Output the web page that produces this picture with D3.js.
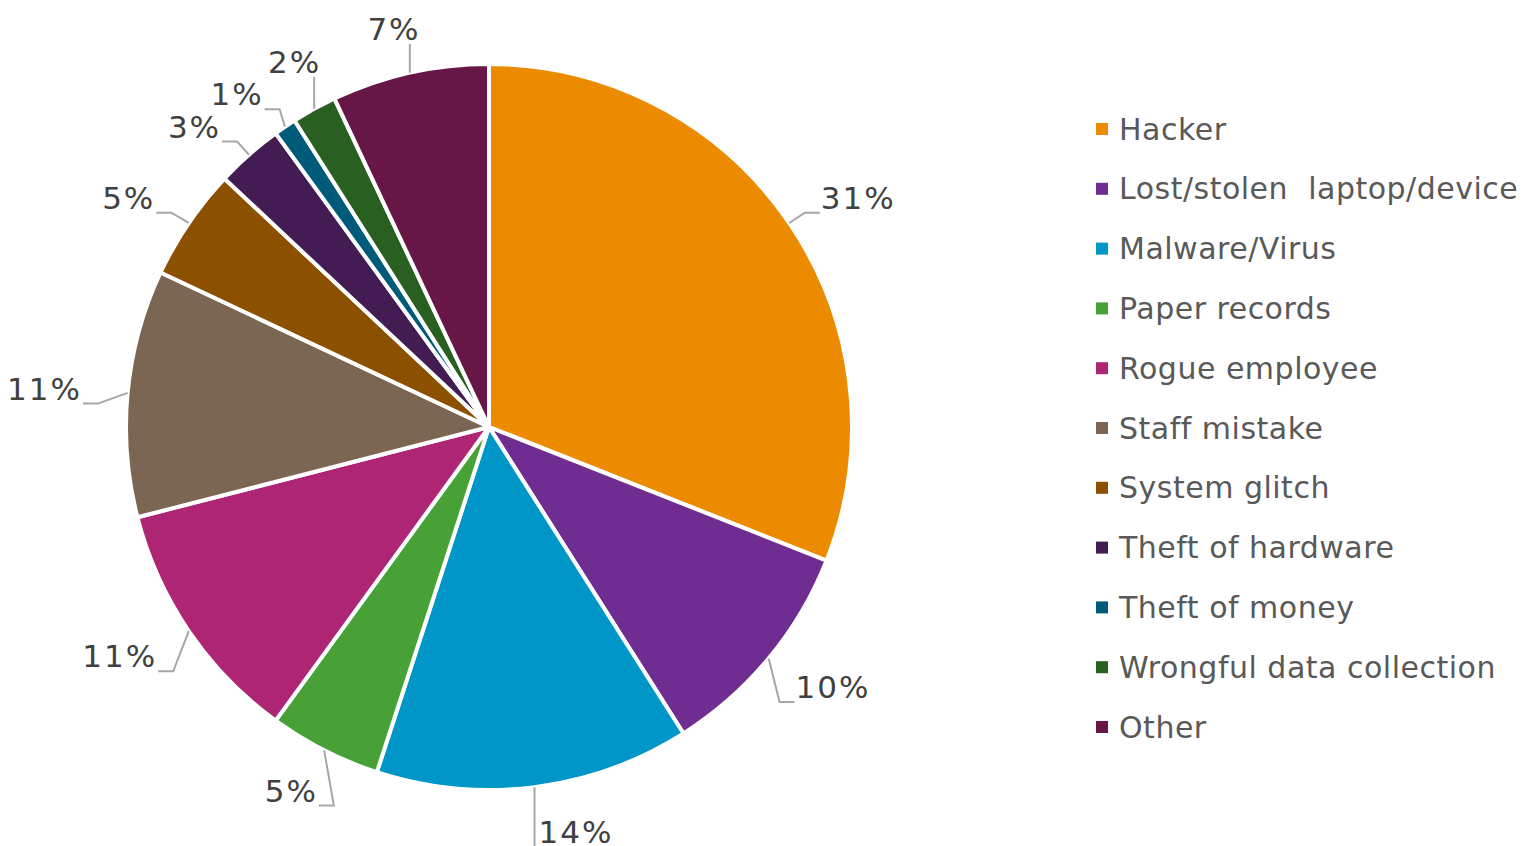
<!DOCTYPE html>
<html>
<head>
<meta charset="utf-8">
<script src="https://cdn.jsdelivr.net/npm/d3@7"></script>
<style>
  html, body { margin: 0; padding: 0; background: #fff; }
  svg { display: block; }
</style>
</head>
<body>
<svg id="chart" width="1528" height="846"></svg>
<script>
// Causes of data breaches, share of incidents (%)
const categories = [
  "Hacker", "Lost/stolen  laptop/device", "Malware/Virus", "Paper records",
  "Rogue employee", "Staff mistake", "System glitch", "Theft of hardware",
  "Theft of money", "Wrongful data collection", "Other"
];
const shares = [31, 10, 14, 5, 11, 11, 5, 3, 1, 2, 7];
const sliceColors = [
  "#ED8B00", "#6F2C91", "#0096C8", "#48A136", "#AE2573", "#7A6652",
  "#8B5000", "#421C52", "#005B7A", "#2A5F22", "#671745"
];

const data = categories.map((c, i) => ({ name: c, value: shares[i], color: sliceColors[i] }));

const svg = d3.select("#chart");
const cx = 489, cy = 427, R = 363;
const fontFam = "Verdana, 'DejaVu Sans', sans-serif";

const pie = d3.pie().value(d => d.value).sort(null);
const arcs = pie(data);
const arc = d3.arc().innerRadius(0).outerRadius(R);

const g = svg.append("g").attr("transform", `translate(${cx},${cy})`);

g.selectAll("path.slice")
  .data(arcs)
  .join("path")
  .attr("class", "slice")
  .attr("d", arc)
  .attr("fill", d => d.data.color)
  .attr("stroke", "#fff")
  .attr("stroke-width", 4)
  .attr("stroke-linejoin", "round");

// Data labels placed just outside the rim, with elbow leader lines
const labelFont = 31;
const labelR = R + 45;
const boxH = 28;
const labels = g.append("g");

const items = arcs.map(d => {
  const t = labels.append("text")
    .attr("font-family", fontFam)
    .attr("font-size", labelFont)
    .attr("letter-spacing", "2px")
    .attr("fill", "#404040")
    .attr("text-anchor", "middle")
    .text(d.data.value + "%");
  const mid = (d.startAngle + d.endAngle) / 2;
  return { d, t, mid, a: mid, w: t.node().getComputedTextLength() + 2 };
});

function boxOf(it) {
  const ux = Math.sin(it.a), uy = -Math.cos(it.a);
  let x = labelR * ux + ux * it.w / 2;
  const y = labelR * uy;
  // below the pie, keep the label beside its leader instead of on top of it
  const sx = R * Math.sin(it.mid);
  if (uy > 0.9 && Math.abs(x - sx) < it.w / 2 + 4) {
    x = ux > 0 ? sx + 3 + it.w / 2 : sx - 3 - it.w / 2;
  }
  return { x, y, l: x - it.w / 2, r: x + it.w / 2, t: y - boxH / 2, b: y + boxH / 2 };
}

// spread neighbouring labels apart along the rim until their boxes clear
for (let iter = 0; iter < 400; iter++) {
  let moved = false;
  for (let i = 0; i < items.length; i++) {
    const A = items[i], B = items[(i + 1) % items.length];
    const ba = boxOf(A), bb = boxOf(B);
    const pad = 4;
    if (ba.l < bb.r + pad && bb.l < ba.r + pad && ba.t < bb.b + pad && bb.t < ba.b + pad) {
      A.a -= 0.004; B.a += 0.004; moved = true;
    }
  }
  if (!moved) break;
}

items.forEach(it => {
  const b = boxOf(it);
  const ux = Math.sin(it.mid), uy = -Math.cos(it.mid);
  it.t.attr("x", b.x).attr("y", b.y + labelFont * 0.36);

  const sx = R * ux, sy = R * uy;
  const bottom = b.b + 1;
  let pts;
  if (sx >= b.l - 4 && sx <= b.r + 4) {
    pts = [[sx, sy], [sx, bottom]];
  } else {
    const ex = ux > 0 ? b.l : b.r;
    const elx = ux > 0 ? ex - 15 : ex + 15;
    pts = [[sx, sy], [elx, bottom], [ex, bottom]];
  }
  labels.append("path")
    .attr("d", d3.line()(pts))
    .attr("fill", "none")
    .attr("stroke", "#A6A6A6")
    .attr("stroke-width", 2);
});

// Legend
const legend = svg.append("g").attr("transform", "translate(1096,129)");
const rowStep = 59.8;
const rows = legend.selectAll("g.row")
  .data(data)
  .join("g")
  .attr("class", "row")
  .attr("transform", (d, i) => `translate(0,${i * rowStep})`);

rows.append("rect")
  .attr("x", 0).attr("y", -6)
  .attr("width", 12).attr("height", 12)
  .attr("fill", d => d.color);

rows.append("text")
  .attr("x", 23)
  .attr("y", 10.5)
  .attr("font-family", fontFam)
  .attr("font-size", 30)
  .attr("letter-spacing", "0.5px")
  .attr("fill", "#595959")
  .style("white-space", "pre")
  .text(d => d.name);
</script>
</body>
</html>
